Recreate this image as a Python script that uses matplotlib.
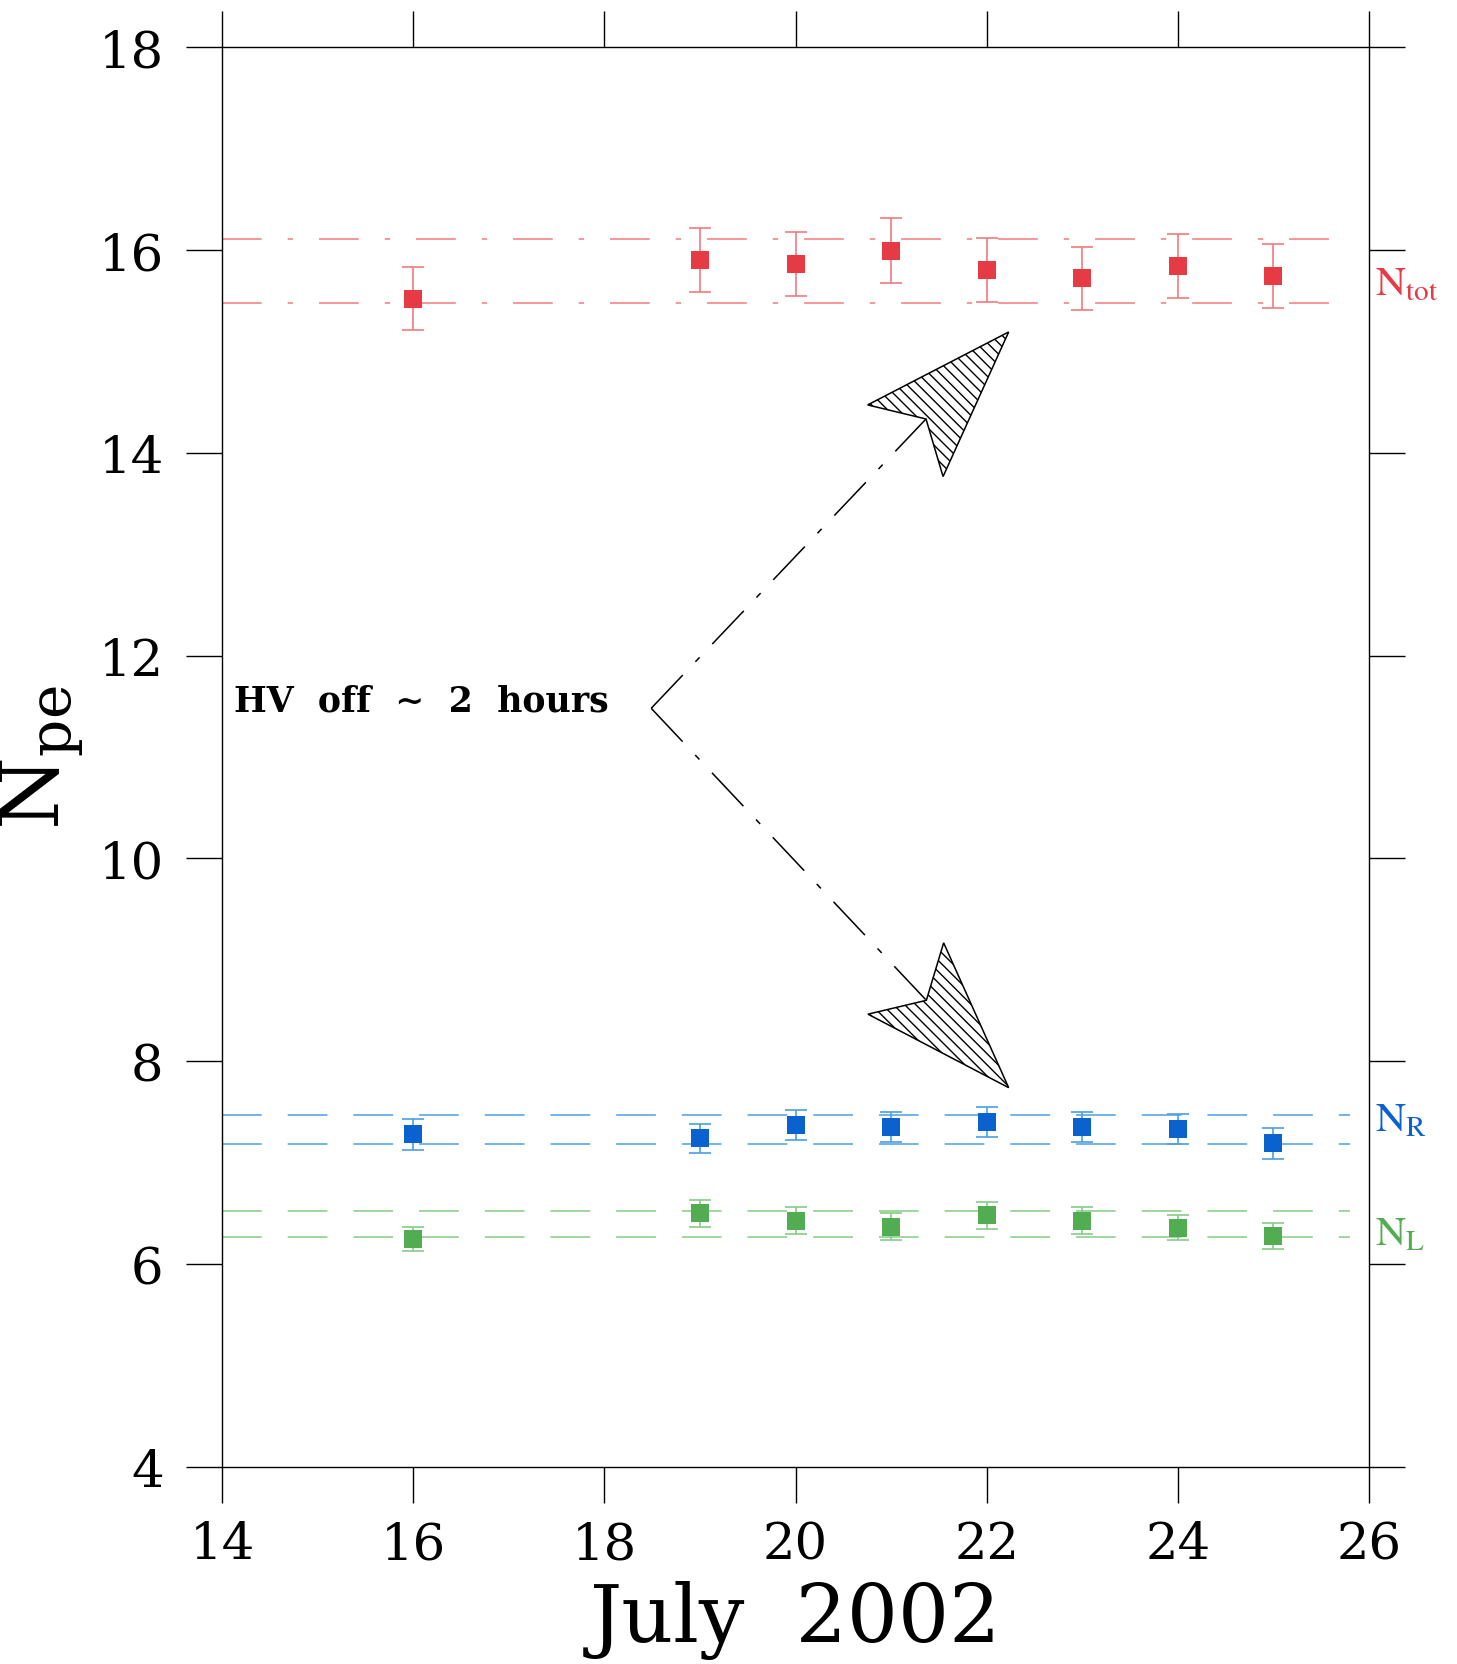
import numpy as np
import matplotlib
matplotlib.use("Agg")
from matplotlib import pyplot as plt
from matplotlib.patches import Polygon

# July 2002 photoelectron yield, one point per day
days = [16, 19, 20, 21, 22, 23, 24, 25]
n_tot = [15.52, 15.90, 15.86, 15.99, 15.80, 15.72, 15.84, 15.74]
n_tot_err = [0.31, 0.32, 0.315, 0.32, 0.315, 0.31, 0.315, 0.315]
n_r = [7.28, 7.24, 7.37, 7.35, 7.40, 7.35, 7.33, 7.19]
n_r_err = [0.15, 0.145, 0.15, 0.15, 0.15, 0.15, 0.15, 0.15]
n_l = [6.25, 6.50, 6.43, 6.37, 6.48, 6.43, 6.36, 6.28]
n_l_err = [0.12, 0.13, 0.13, 0.13, 0.13, 0.13, 0.12, 0.13]

# band limits (horizontal reference lines)
tot_band = [15.48, 16.11]
r_band = [7.18, 7.47]
l_band = [6.27, 6.52]
band_x = [14.0, 25.8]

# annotation: "HV off" arrows
hv_vertex = (18.49, 11.48)
hv_tips = [(22.23, 15.19), (22.23, 7.74)]
hv_hatches = ['\\\\\\', '\\\\\\']

plt.rcParams['font.family'] = ['DejaVu Serif', 'DejaVu Sans']
plt.rcParams['hatch.linewidth'] = 1.0

fig = plt.figure(figsize=(14.57, 16.65), dpi=100)
ax = fig.add_axes([0.1524, 0.1183, 0.7872, 0.8529])

series = [
  (n_tot, n_tot_err, tot_band, '#e63a44', '#f27a80', (0, (26, 17, 3.5, 17))),
  (n_r, n_r_err, r_band, '#0a62cf', '#4a9fe6', (0, (26, 17))),
  (n_l, n_l_err, l_band, '#52ad52', '#86cc86', (0, (26, 17))),
]

for vals, errs, band, mcol, lcol, ls in series:
  for b in band:
    ax.plot(band_x, [b, b], color=lcol, lw=1.1, linestyle=ls, zorder=1)
  ax.errorbar(days, vals, yerr=errs, fmt='none', ecolor=lcol,
              elinewidth=1.2, capsize=8, capthick=1.2, zorder=2)
  ax.plot(days, vals, 's', color=mcol, markersize=13, markeredgewidth=0, zorder=3)

ax.set_xlim(14, 26)
ax.set_ylim(4, 18)
ax.set_xticks(np.arange(14, 27, 2))
ax.set_yticks(np.arange(4, 19, 2))
ax.tick_params(direction='out', length=26, width=1.0, labelsize=37,
               top=True, right=True, labeltop=False, labelright=False)
ax.tick_params(axis='y', pad=16)
ax.tick_params(axis='x', pad=12)
for sp in ax.spines.values():
  sp.set_linewidth(1.0)

ax.set_xlabel('July  2002', fontsize=58, labelpad=8)
ax.set_ylabel(r'$\mathrm{N}_{\mathrm{pe}}$', fontsize=60, math_fontfamily='dejavuserif',
              labelpad=8)

# right-hand series labels
yx = ax.get_yaxis_transform()
ax.text(1.005, 15.56, r'$\mathrm{N}_{\mathrm{tot}}$', transform=yx, color='#e63a44',
        fontsize=30, math_fontfamily='stix', va='baseline', ha='left')
ax.text(1.005, 7.32, r'$\mathrm{N}_{\mathrm{R}}$', transform=yx, color='#0a62cf',
        fontsize=30, math_fontfamily='stix', va='baseline', ha='left')
ax.text(1.005, 6.20, r'$\mathrm{N}_{\mathrm{L}}$', transform=yx, color='#52ad52',
        fontsize=30, math_fontfamily='stix', va='baseline', ha='left')

ax.text(14.12, 11.46, 'HV  off  \u223c  2  hours', fontsize=25, fontweight='semibold',
        va='baseline', ha='left')

# arrows drawn in pixel space so the heads keep their shape
to_px = ax.transData
to_data = ax.transData.inverted()
v_px = to_px.transform(hv_vertex)
head_len, head_w, notch = 150.0, 52.0, 30.0
for tip, hatch in zip(hv_tips, hv_hatches):
  t_px = to_px.transform(tip)
  u = (t_px - v_px) / np.hypot(*(t_px - v_px))
  n = np.array([-u[1], u[0]])
  base = t_px - (head_len - notch) * u
  line = to_data.transform(np.array([v_px, base]))
  ax.plot(line[:, 0], line[:, 1], color='black', lw=1.1,
          linestyle=(0, (30, 12, 4, 12)), zorder=2)
  head_px = np.array([t_px,
                      t_px - head_len * u + head_w * n,
                      base,
                      t_px - head_len * u - head_w * n])
  head = to_data.transform(head_px)
  ax.add_patch(Polygon(head, closed=True, fill=False, edgecolor='black',
                       lw=1.1, hatch=hatch, zorder=2))

fig.savefig('out.png', dpi=100)
